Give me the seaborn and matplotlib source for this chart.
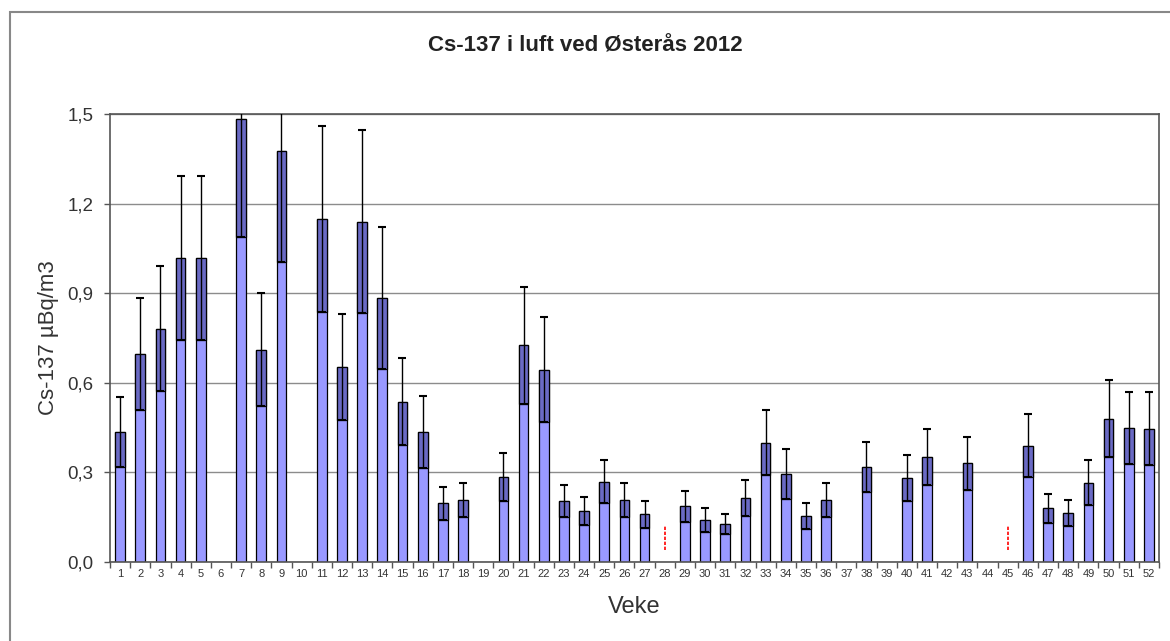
import numpy as np
import pandas as pd
import matplotlib
matplotlib.use("Agg")
import matplotlib.pyplot as plt
from matplotlib.patches import Rectangle
from matplotlib.ticker import FuncFormatter
import seaborn as sns

# Weekly Cs-137 values (µBq/m3) and uncertainty, NaN = no measurement
weeks = [str(w) for w in range(1, 53)]
values = [0.435, 0.697, 0.781, 1.018, 1.018, np.nan, 1.484, 0.711, 1.377, np.nan,
          1.148, 0.653, 1.139, 0.884, 0.537, 0.435, 0.196, 0.207, np.nan, 0.285,
          0.725, 0.644, 0.205, 0.171, 0.268, 0.207, 0.160, np.nan, 0.187, 0.140,
          0.127, 0.213, 0.400, 0.294, 0.154, 0.207, np.nan, 0.318, np.nan, 0.282,
          0.352, np.nan, 0.330, np.nan, np.nan, 0.389, 0.180, 0.163, 0.266, 0.480,
          0.449, 0.447]
errors = [0.117, 0.187, 0.210, 0.275, 0.275, np.nan, 0.397, 0.190, 0.371, np.nan,
          0.311, 0.178, 0.306, 0.239, 0.146, 0.120, 0.055, 0.057, np.nan, 0.080,
          0.197, 0.175, 0.053, 0.046, 0.072, 0.057, 0.045, np.nan, 0.052, 0.040,
          0.034, 0.060, 0.110, 0.083, 0.042, 0.056, np.nan, 0.085, np.nan, 0.077,
          0.095, np.nan, 0.089, np.nan, np.nan, 0.106, 0.048, 0.044, 0.075, 0.128,
          0.121, 0.122]
# weeks marked with a red dashed stroke (below detection limit)
marked_weeks = ["28", "45"]
marked_range = (0.04, 0.12)

df = pd.DataFrame({"veke": weeks, "cs137": values, "err": errors})

sns.set_style("white")
plt.rcParams["font.family"] = ["Liberation Sans", "DejaVu Sans"]

fig = plt.figure(figsize=(11.7, 6.41), dpi=100)
ax = fig.add_axes([0.094, 0.1232, 0.8966, 0.699])

sns.barplot(data=df, x="veke", y="cs137", order=weeks, errorbar=None,
            color="#9999ff", saturation=1, width=0.48,
            edgecolor="black", linewidth=0.9, ax=ax, zorder=2)

# darker box for the lower part of the uncertainty
pos = np.arange(len(weeks))
vals = df["cs137"].to_numpy()
errs = df["err"].to_numpy()
ax.bar(pos, errs, bottom=vals - errs, width=0.48, color="#6a6ac4",
       edgecolor="black", linewidth=0.9, zorder=3)
ax.errorbar(pos, vals, yerr=errs, fmt="none",
            ecolor="black", elinewidth=1.0, capsize=3, capthick=1.5, zorder=4)

for w in marked_weeks:
    ax.vlines(weeks.index(w), *marked_range, colors="red", linestyles=(0, (2, 1)),
              linewidth=1.2, zorder=4)

ax.set_xlim(-0.5, len(weeks) - 0.5)
ax.set_ylim(0, 1.5)
ax.set_yticks([0, 0.3, 0.6, 0.9, 1.2, 1.5])
ax.yaxis.set_major_formatter(FuncFormatter(lambda v, p: f"{v:.1f}".replace(".", ",")))
ax.grid(axis="y", color="#8c8c8c", linewidth=1.0, zorder=0)
ax.set_axisbelow(True)

for s in ax.spines.values():
    s.set_visible(True)
    s.set_color("#555555")
    s.set_linewidth(1.2)

ax.tick_params(axis="y", which="major", length=4, width=1, color="#555555",
               labelsize=13.5, pad=8, direction="out", left=True,
               labelcolor="#333333")
ax.tick_params(axis="x", which="major", length=0, labelsize=8, pad=5,
               labelcolor="#333333")
ax.set_xticks(np.arange(len(weeks) + 1) - 0.5, minor=True)
ax.tick_params(axis="x", which="minor", length=4, width=1, color="#555555",
               direction="out", bottom=True)

ax.set_xlabel("Veke", fontsize=17, color="#333333", labelpad=12)
ax.set_ylabel("Cs-137 µBq/m3", fontsize=16, color="#333333", labelpad=6)
fig.text(0.5, 0.928, "Cs-137 i luft ved Østerås 2012", ha="center", va="center",
         fontsize=16, fontweight="bold", color="#222222")

# outer chart border
fig.patches.append(Rectangle((0.0085, -0.05), 1.1, 1.031, transform=fig.transFigure,
                             fill=False, edgecolor="#888888", linewidth=1.5))

plt.savefig("out.png", dpi=100)
